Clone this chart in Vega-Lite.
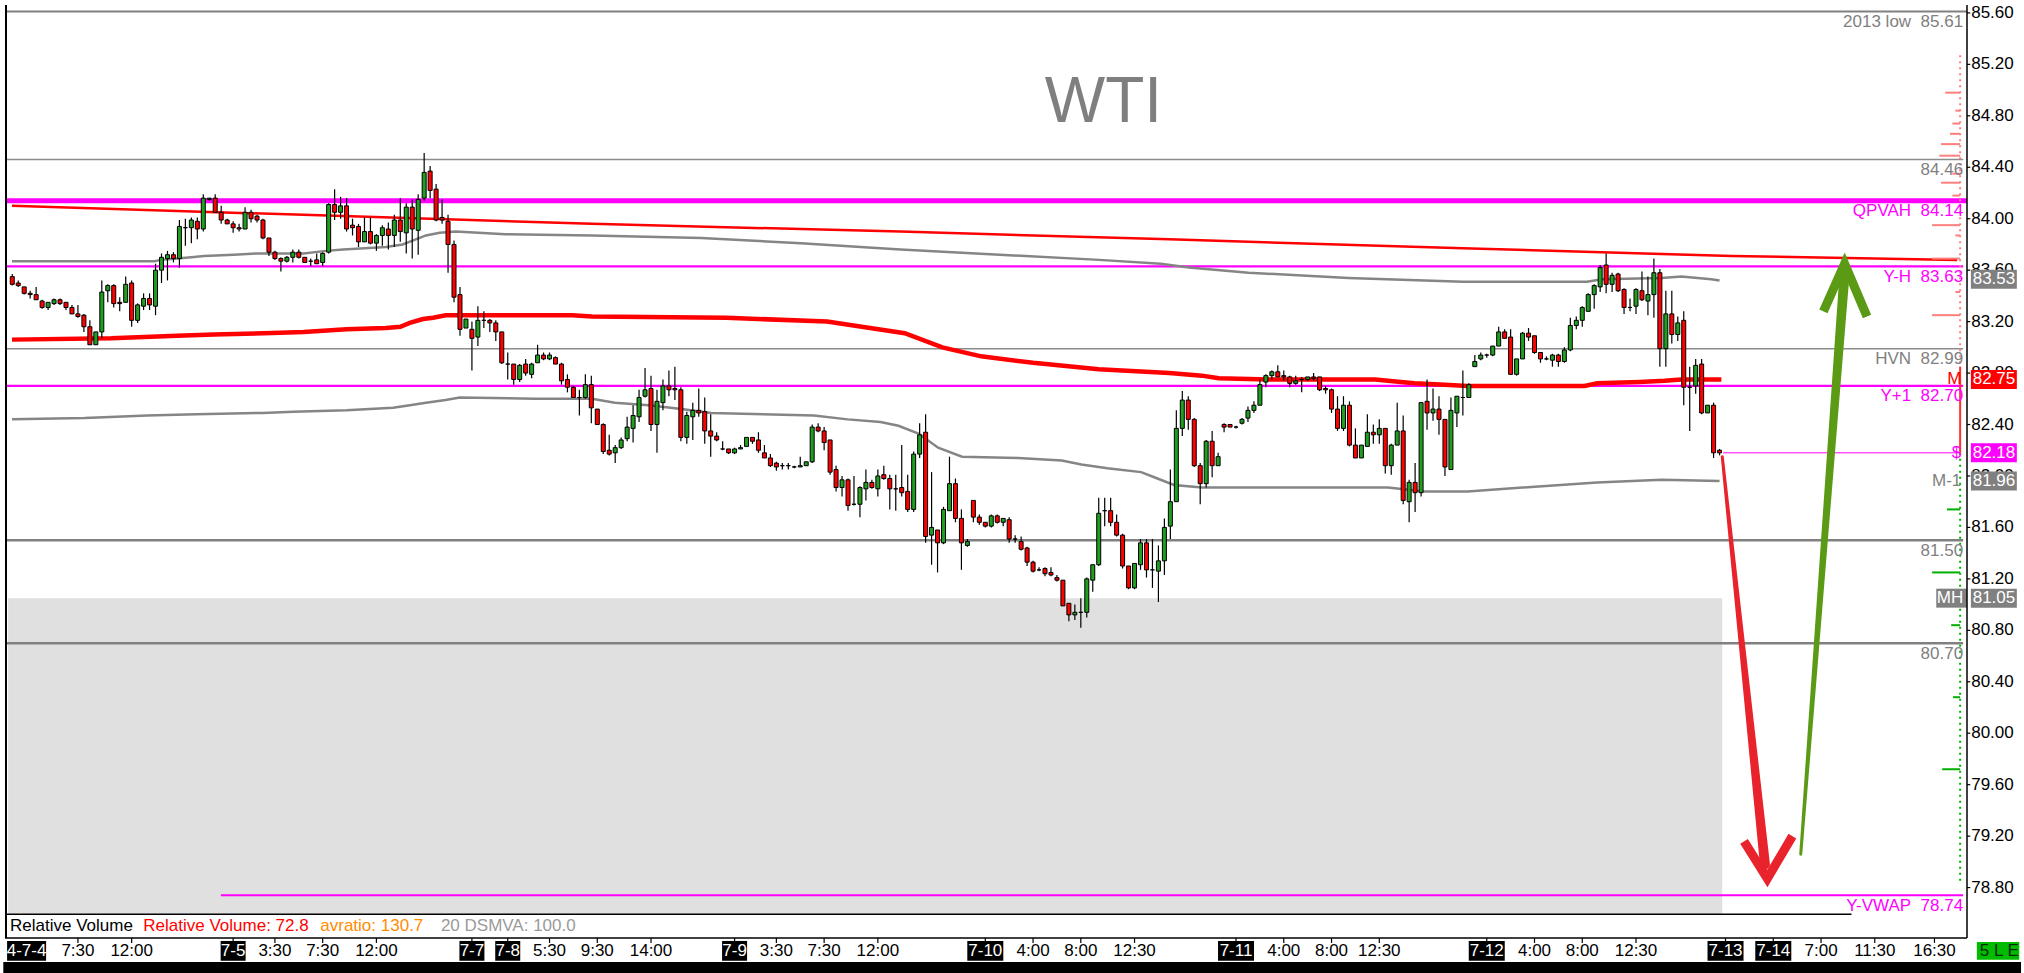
{
"$schema":"https://vega.github.io/schema/vega-lite/v6.json",
"width":1972,"height":943,
"autosize":{"type":"none"},
"padding":{"left":0,"top":0,"right":52,"bottom":30},
"background":"white",
"config":{"view":{"stroke":null},"font":"Liberation Sans","text":{"font":"Liberation Sans"}},
"datasets":{
"candles":[
{"t":1,"o":83.55,"h":83.57,"l":83.48,"c":83.49},{"t":2,"o":83.50,"h":83.52,"l":83.47,"c":83.48},{"t":3,"o":83.47,"h":83.47,"l":83.41,"c":83.42},{"t":4,"o":83.42,"h":83.44,"l":83.38,"c":83.41},{"t":5,"o":83.41,"h":83.47,"l":83.37,"c":83.37},{"t":6,"o":83.36,"h":83.37,"l":83.30,"c":83.31},{"t":7,"o":83.31,"h":83.35,"l":83.29,"c":83.35},{"t":8,"o":83.34,"h":83.38,"l":83.33,"c":83.37},{"t":9,"o":83.37,"h":83.38,"l":83.33,"c":83.34},{"t":10,"o":83.35,"h":83.35,"l":83.29,"c":83.31},
{"t":11,"o":83.31,"h":83.33,"l":83.26,"c":83.26},{"t":12,"o":83.26,"h":83.33,"l":83.23,"c":83.24},{"t":13,"o":83.25,"h":83.26,"l":83.12,"c":83.16},{"t":14,"o":83.16,"h":83.21,"l":83.02,"c":83.02},{"t":15,"o":83.02,"h":83.12,"l":83.02,"c":83.12},{"t":16,"o":83.12,"h":83.52,"l":83.07,"c":83.43},{"t":17,"o":83.44,"h":83.49,"l":83.35,"c":83.48},{"t":18,"o":83.48,"h":83.49,"l":83.31,"c":83.34},{"t":19,"o":83.35,"h":83.39,"l":83.28,"c":83.34},{"t":20,"o":83.35,"h":83.55,"l":83.35,"c":83.49},
{"t":21,"o":83.50,"h":83.52,"l":83.16,"c":83.21},{"t":22,"o":83.21,"h":83.34,"l":83.19,"c":83.33},{"t":23,"o":83.32,"h":83.42,"l":83.29,"c":83.38},{"t":24,"o":83.38,"h":83.42,"l":83.29,"c":83.33},{"t":25,"o":83.32,"h":83.65,"l":83.25,"c":83.60},{"t":26,"o":83.60,"h":83.73,"l":83.50,"c":83.70},{"t":27,"o":83.69,"h":83.75,"l":83.52,"c":83.72},{"t":28,"o":83.72,"h":83.74,"l":83.66,"c":83.69},{"t":29,"o":83.69,"h":83.99,"l":83.62,"c":83.94},{"t":30,"o":83.93,"h":84.00,"l":83.79,"c":83.93},
{"t":31,"o":83.93,"h":84.01,"l":83.81,"c":83.99},{"t":32,"o":83.98,"h":84.01,"l":83.84,"c":83.92},{"t":33,"o":83.92,"h":84.19,"l":83.90,"c":84.16},{"t":34,"o":84.15,"h":84.16,"l":84.14,"c":84.16},{"t":35,"o":84.16,"h":84.19,"l":84.05,"c":84.05},{"t":36,"o":84.05,"h":84.10,"l":83.96,"c":83.99},{"t":37,"o":83.99,"h":84.00,"l":83.96,"c":83.96},{"t":38,"o":83.96,"h":83.98,"l":83.89,"c":83.93},{"t":39,"o":83.93,"h":83.96,"l":83.90,"c":83.92},{"t":40,"o":83.92,"h":84.09,"l":83.92,"c":84.05},
{"t":41,"o":84.05,"h":84.07,"l":83.97,"c":84.00},{"t":42,"o":84.02,"h":84.03,"l":83.97,"c":83.99},{"t":43,"o":83.99,"h":84.00,"l":83.84,"c":83.85},{"t":44,"o":83.85,"h":83.85,"l":83.71,"c":83.74},{"t":45,"o":83.74,"h":83.75,"l":83.68,"c":83.69},{"t":46,"o":83.69,"h":83.70,"l":83.59,"c":83.67},{"t":47,"o":83.67,"h":83.71,"l":83.66,"c":83.70},{"t":48,"o":83.70,"h":83.76,"l":83.66,"c":83.74},{"t":49,"o":83.74,"h":83.76,"l":83.69,"c":83.70},{"t":50,"o":83.70,"h":83.70,"l":83.66,"c":83.66},
{"t":51,"o":83.67,"h":83.69,"l":83.63,"c":83.67},{"t":52,"o":83.68,"h":83.73,"l":83.65,"c":83.65},{"t":53,"o":83.66,"h":83.74,"l":83.63,"c":83.73},{"t":54,"o":83.74,"h":84.12,"l":83.73,"c":84.11},{"t":55,"o":84.11,"h":84.23,"l":83.99,"c":84.05},{"t":56,"o":84.05,"h":84.17,"l":84.00,"c":84.10},{"t":57,"o":84.10,"h":84.16,"l":83.90,"c":83.92},{"t":58,"o":83.95,"h":84.00,"l":83.87,"c":83.93},{"t":59,"o":83.94,"h":83.96,"l":83.78,"c":83.82},{"t":60,"o":83.82,"h":84.01,"l":83.82,"c":83.90},
{"t":61,"o":83.90,"h":84.01,"l":83.80,"c":83.81},{"t":62,"o":83.81,"h":83.88,"l":83.75,"c":83.87},{"t":63,"o":83.87,"h":83.95,"l":83.79,"c":83.93},{"t":64,"o":83.92,"h":83.97,"l":83.76,"c":83.87},{"t":65,"o":83.87,"h":84.03,"l":83.78,"c":83.99},{"t":66,"o":83.99,"h":84.16,"l":83.82,"c":83.90},{"t":67,"o":83.89,"h":84.12,"l":83.73,"c":84.09},{"t":68,"o":84.09,"h":84.15,"l":83.69,"c":83.92},{"t":69,"o":83.91,"h":84.19,"l":83.72,"c":84.15},{"t":70,"o":84.16,"h":84.51,"l":84.14,"c":84.36},
{"t":71,"o":84.37,"h":84.41,"l":84.16,"c":84.22},{"t":72,"o":84.23,"h":84.27,"l":83.98,"c":83.99},{"t":73,"o":84.01,"h":84.15,"l":83.96,"c":83.99},{"t":74,"o":83.98,"h":84.03,"l":83.58,"c":83.80},{"t":75,"o":83.80,"h":83.83,"l":83.35,"c":83.39},{"t":76,"o":83.41,"h":83.47,"l":83.09,"c":83.14},{"t":77,"o":83.15,"h":83.22,"l":83.15,"c":83.22},{"t":78,"o":83.14,"h":83.20,"l":82.82,"c":83.07},{"t":79,"o":83.08,"h":83.32,"l":83.01,"c":83.21},{"t":80,"o":83.21,"h":83.28,"l":83.15,"c":83.21},
{"t":81,"o":83.21,"h":83.22,"l":83.12,"c":83.19},{"t":82,"o":83.19,"h":83.21,"l":83.05,"c":83.12},{"t":83,"o":83.12,"h":83.12,"l":82.87,"c":82.88},{"t":84,"o":82.87,"h":82.96,"l":82.75,"c":82.87},{"t":85,"o":82.87,"h":82.87,"l":82.71,"c":82.75},{"t":86,"o":82.75,"h":82.87,"l":82.73,"c":82.86},{"t":87,"o":82.87,"h":82.91,"l":82.78,"c":82.80},{"t":88,"o":82.79,"h":82.88,"l":82.76,"c":82.87},{"t":89,"o":82.88,"h":83.02,"l":82.88,"c":82.94},{"t":90,"o":82.94,"h":82.96,"l":82.90,"c":82.91},
{"t":91,"o":82.91,"h":82.96,"l":82.90,"c":82.94},{"t":92,"o":82.92,"h":82.93,"l":82.87,"c":82.87},{"t":93,"o":82.87,"h":82.88,"l":82.71,"c":82.74},{"t":94,"o":82.75,"h":82.79,"l":82.65,"c":82.69},{"t":95,"o":82.69,"h":82.70,"l":82.61,"c":82.61},{"t":96,"o":82.61,"h":82.67,"l":82.47,"c":82.61},{"t":97,"o":82.61,"h":82.79,"l":82.60,"c":82.71},{"t":98,"o":82.71,"h":82.78,"l":82.41,"c":82.53},{"t":99,"o":82.52,"h":82.52,"l":82.40,"c":82.40},{"t":100,"o":82.40,"h":82.41,"l":82.17,"c":82.19},
{"t":101,"o":82.20,"h":82.32,"l":82.16,"c":82.17},{"t":102,"o":82.18,"h":82.24,"l":82.10,"c":82.22},{"t":103,"o":82.22,"h":82.30,"l":82.21,"c":82.28},{"t":104,"o":82.29,"h":82.46,"l":82.27,"c":82.38},{"t":105,"o":82.37,"h":82.55,"l":82.26,"c":82.47},{"t":106,"o":82.46,"h":82.67,"l":82.42,"c":82.61},{"t":107,"o":82.62,"h":82.84,"l":82.61,"c":82.67},{"t":108,"o":82.68,"h":82.78,"l":82.35,"c":82.40},{"t":109,"o":82.40,"h":82.67,"l":82.18,"c":82.58},{"t":110,"o":82.57,"h":82.75,"l":82.51,"c":82.70},
{"t":111,"o":82.70,"h":82.82,"l":82.62,"c":82.67},{"t":112,"o":82.68,"h":82.85,"l":82.59,"c":82.67},{"t":113,"o":82.67,"h":82.69,"l":82.27,"c":82.30},{"t":114,"o":82.30,"h":82.50,"l":82.25,"c":82.47},{"t":115,"o":82.46,"h":82.57,"l":82.28,"c":82.51},{"t":116,"o":82.51,"h":82.68,"l":82.46,"c":82.49},{"t":117,"o":82.50,"h":82.61,"l":82.25,"c":82.35},{"t":118,"o":82.35,"h":82.48,"l":82.15,"c":82.31},{"t":119,"o":82.31,"h":82.34,"l":82.27,"c":82.28},{"t":120,"o":82.21,"h":82.27,"l":82.20,"c":82.21},
{"t":121,"o":82.21,"h":82.21,"l":82.17,"c":82.18},{"t":122,"o":82.18,"h":82.22,"l":82.17,"c":82.21},{"t":123,"o":82.21,"h":82.24,"l":82.21,"c":82.22},{"t":124,"o":82.23,"h":82.30,"l":82.23,"c":82.30},{"t":125,"o":82.30,"h":82.30,"l":82.25,"c":82.27},{"t":126,"o":82.28,"h":82.34,"l":82.18,"c":82.20},{"t":127,"o":82.18,"h":82.24,"l":82.14,"c":82.14},{"t":128,"o":82.14,"h":82.17,"l":82.07,"c":82.08},{"t":129,"o":82.10,"h":82.11,"l":82.04,"c":82.07},{"t":130,"o":82.08,"h":82.10,"l":82.05,"c":82.08},
{"t":131,"o":82.08,"h":82.10,"l":82.05,"c":82.08},{"t":132,"o":82.07,"h":82.08,"l":82.06,"c":82.07},{"t":133,"o":82.07,"h":82.15,"l":82.07,"c":82.08},{"t":134,"o":82.08,"h":82.11,"l":82.08,"c":82.11},{"t":135,"o":82.11,"h":82.40,"l":82.10,"c":82.38},{"t":136,"o":82.38,"h":82.41,"l":82.34,"c":82.35},{"t":137,"o":82.35,"h":82.38,"l":82.20,"c":82.26},{"t":138,"o":82.28,"h":82.28,"l":82.01,"c":82.03},{"t":139,"o":82.05,"h":82.08,"l":81.88,"c":81.91},{"t":140,"o":81.91,"h":82.00,"l":81.84,"c":81.97},
{"t":141,"o":81.97,"h":81.98,"l":81.73,"c":81.77},{"t":142,"o":81.78,"h":82.00,"l":81.77,"c":81.78},{"t":143,"o":81.78,"h":81.92,"l":81.68,"c":81.91},{"t":144,"o":81.90,"h":82.05,"l":81.81,"c":81.95},{"t":145,"o":81.95,"h":81.97,"l":81.90,"c":81.91},{"t":146,"o":81.90,"h":82.05,"l":81.84,"c":82.00},{"t":147,"o":82.01,"h":82.08,"l":81.97,"c":81.98},{"t":148,"o":81.98,"h":82.01,"l":81.74,"c":81.90},{"t":149,"o":81.90,"h":82.01,"l":81.73,"c":81.90},{"t":150,"o":81.91,"h":82.24,"l":81.84,"c":81.87},
{"t":151,"o":81.88,"h":82.01,"l":81.72,"c":81.74},{"t":152,"o":81.74,"h":82.19,"l":81.72,"c":82.17},{"t":153,"o":82.17,"h":82.41,"l":82.14,"c":82.32},{"t":154,"o":82.34,"h":82.48,"l":81.48,"c":81.53},{"t":155,"o":81.54,"h":82.03,"l":81.31,"c":81.60},{"t":156,"o":81.58,"h":81.58,"l":81.25,"c":81.48},{"t":157,"o":81.48,"h":81.76,"l":81.47,"c":81.74},{"t":158,"o":81.73,"h":82.15,"l":81.73,"c":81.94},{"t":159,"o":81.94,"h":81.98,"l":81.64,"c":81.67},{"t":160,"o":81.67,"h":81.74,"l":81.27,"c":81.48},
{"t":161,"o":81.46,"h":81.51,"l":81.45,"c":81.49},{"t":162,"o":81.81,"h":81.81,"l":81.64,"c":81.68},{"t":163,"o":81.68,"h":81.70,"l":81.62,"c":81.64},{"t":164,"o":81.64,"h":81.64,"l":81.60,"c":81.61},{"t":165,"o":81.61,"h":81.70,"l":81.60,"c":81.69},{"t":166,"o":81.69,"h":81.70,"l":81.63,"c":81.64},{"t":167,"o":81.64,"h":81.67,"l":81.61,"c":81.67},{"t":168,"o":81.66,"h":81.68,"l":81.48,"c":81.51},{"t":169,"o":81.51,"h":81.54,"l":81.48,"c":81.51},{"t":170,"o":81.49,"h":81.53,"l":81.42,"c":81.43},
{"t":171,"o":81.44,"h":81.45,"l":81.30,"c":81.33},{"t":172,"o":81.33,"h":81.34,"l":81.25,"c":81.26},{"t":173,"o":81.27,"h":81.29,"l":81.26,"c":81.27},{"t":174,"o":81.28,"h":81.29,"l":81.22,"c":81.24},{"t":175,"o":81.25,"h":81.29,"l":81.22,"c":81.23},{"t":176,"o":81.21,"h":81.23,"l":81.18,"c":81.19},{"t":177,"o":81.19,"h":81.19,"l":80.99,"c":80.99},{"t":178,"o":81.01,"h":81.01,"l":80.87,"c":80.92},{"t":179,"o":80.92,"h":81.00,"l":80.88,"c":80.94},{"t":180,"o":80.94,"h":81.05,"l":80.82,"c":80.94},
{"t":181,"o":80.94,"h":81.21,"l":80.90,"c":81.20},{"t":182,"o":81.19,"h":81.31,"l":81.10,"c":81.31},{"t":183,"o":81.31,"h":81.83,"l":81.30,"c":81.71},{"t":184,"o":81.73,"h":81.83,"l":81.61,"c":81.73},{"t":185,"o":81.73,"h":81.83,"l":81.61,"c":81.64},{"t":186,"o":81.64,"h":81.70,"l":81.53,"c":81.54},{"t":187,"o":81.54,"h":81.55,"l":81.28,"c":81.30},{"t":188,"o":81.30,"h":81.30,"l":81.12,"c":81.13},{"t":189,"o":81.13,"h":81.32,"l":81.12,"c":81.32},{"t":190,"o":81.31,"h":81.51,"l":81.27,"c":81.48},
{"t":191,"o":81.48,"h":81.51,"l":81.21,"c":81.27},{"t":192,"o":81.27,"h":81.51,"l":81.13,"c":81.27},{"t":193,"o":81.26,"h":81.46,"l":81.02,"c":81.34},{"t":194,"o":81.34,"h":81.67,"l":81.23,"c":81.60},{"t":195,"o":81.61,"h":82.05,"l":81.51,"c":81.80},{"t":196,"o":81.80,"h":82.51,"l":81.80,"c":82.37},{"t":197,"o":82.37,"h":82.66,"l":82.31,"c":82.59},{"t":198,"o":82.59,"h":82.62,"l":82.36,"c":82.44},{"t":199,"o":82.44,"h":82.45,"l":82.07,"c":82.08},{"t":200,"o":82.08,"h":82.10,"l":81.78,"c":81.94},
{"t":201,"o":81.94,"h":82.28,"l":81.91,"c":82.27},{"t":202,"o":82.27,"h":82.35,"l":81.99,"c":82.08},{"t":203,"o":82.08,"h":82.18,"l":82.08,"c":82.15},{"t":204,"o":82.40,"h":82.41,"l":82.34,"c":82.38},{"t":205,"o":82.40,"h":82.40,"l":82.38,"c":82.38},{"t":206,"o":82.38,"h":82.39,"l":82.37,"c":82.38},{"t":207,"o":82.41,"h":82.45,"l":82.40,"c":82.44},{"t":208,"o":82.45,"h":82.54,"l":82.42,"c":82.51},{"t":209,"o":82.51,"h":82.58,"l":82.49,"c":82.55},{"t":210,"o":82.55,"h":82.75,"l":82.55,"c":82.71},
{"t":211,"o":82.73,"h":82.79,"l":82.69,"c":82.78},{"t":212,"o":82.78,"h":82.82,"l":82.75,"c":82.81},{"t":213,"o":82.81,"h":82.86,"l":82.77,"c":82.77},{"t":214,"o":82.78,"h":82.82,"l":82.74,"c":82.77},{"t":215,"o":82.77,"h":82.78,"l":82.69,"c":82.72},{"t":216,"o":82.72,"h":82.78,"l":82.71,"c":82.74},{"t":217,"o":82.75,"h":82.77,"l":82.65,"c":82.75},{"t":218,"o":82.75,"h":82.77,"l":82.74,"c":82.77},{"t":219,"o":82.77,"h":82.80,"l":82.74,"c":82.76},{"t":220,"o":82.77,"h":82.77,"l":82.66,"c":82.67},
{"t":221,"o":82.68,"h":82.70,"l":82.64,"c":82.67},{"t":222,"o":82.67,"h":82.68,"l":82.49,"c":82.52},{"t":223,"o":82.52,"h":82.62,"l":82.35,"c":82.37},{"t":224,"o":82.37,"h":82.62,"l":82.35,"c":82.55},{"t":225,"o":82.55,"h":82.58,"l":82.23,"c":82.24},{"t":226,"o":82.24,"h":82.37,"l":82.14,"c":82.14},{"t":227,"o":82.14,"h":82.24,"l":82.14,"c":82.24},{"t":228,"o":82.23,"h":82.48,"l":82.23,"c":82.34},{"t":229,"o":82.34,"h":82.40,"l":82.25,"c":82.32},{"t":230,"o":82.32,"h":82.44,"l":82.25,"c":82.37},
{"t":231,"o":82.37,"h":82.37,"l":82.02,"c":82.08},{"t":232,"o":82.08,"h":82.25,"l":82.01,"c":82.24},{"t":233,"o":82.24,"h":82.57,"l":82.24,"c":82.35},{"t":234,"o":82.35,"h":82.47,"l":81.78,"c":81.81},{"t":235,"o":81.80,"h":81.97,"l":81.64,"c":81.95},{"t":236,"o":81.95,"h":82.10,"l":81.72,"c":81.87},{"t":237,"o":81.87,"h":82.57,"l":81.84,"c":82.57},{"t":238,"o":82.58,"h":82.75,"l":82.36,"c":82.49},{"t":239,"o":82.49,"h":82.68,"l":82.43,"c":82.52},{"t":240,"o":82.52,"h":82.62,"l":82.32,"c":82.44},
{"t":241,"o":82.44,"h":82.44,"l":82.00,"c":82.07},{"t":242,"o":82.05,"h":82.61,"l":82.05,"c":82.51},{"t":243,"o":82.49,"h":82.62,"l":82.38,"c":82.62},{"t":244,"o":82.61,"h":82.82,"l":82.47,"c":82.61},{"t":245,"o":82.61,"h":82.72,"l":82.61,"c":82.71},{"t":246,"o":82.85,"h":82.94,"l":82.85,"c":82.89},{"t":247,"o":82.91,"h":82.96,"l":82.90,"c":82.94},{"t":248,"o":82.94,"h":82.95,"l":82.92,"c":82.94},{"t":249,"o":82.94,"h":83.01,"l":82.93,"c":83.01},{"t":250,"o":83.01,"h":83.16,"l":83.01,"c":83.12},
{"t":251,"o":83.12,"h":83.14,"l":83.07,"c":83.07},{"t":252,"o":83.08,"h":83.14,"l":82.79,"c":82.79},{"t":253,"o":82.79,"h":82.91,"l":82.78,"c":82.91},{"t":254,"o":82.91,"h":83.12,"l":82.91,"c":83.11},{"t":255,"o":83.11,"h":83.15,"l":83.05,"c":83.08},{"t":256,"o":83.09,"h":83.09,"l":82.95,"c":82.96},{"t":257,"o":82.96,"h":82.96,"l":82.88,"c":82.91},{"t":258,"o":82.91,"h":82.93,"l":82.90,"c":82.91},{"t":259,"o":82.90,"h":82.95,"l":82.85,"c":82.94},{"t":260,"o":82.94,"h":82.95,"l":82.85,"c":82.89},
{"t":261,"o":82.89,"h":83.00,"l":82.88,"c":82.98},{"t":262,"o":82.98,"h":83.23,"l":82.97,"c":83.17},{"t":263,"o":83.17,"h":83.24,"l":83.14,"c":83.21},{"t":264,"o":83.21,"h":83.32,"l":83.16,"c":83.31},{"t":265,"o":83.28,"h":83.42,"l":83.28,"c":83.41},{"t":266,"o":83.41,"h":83.49,"l":83.30,"c":83.48},{"t":267,"o":83.47,"h":83.64,"l":83.43,"c":83.62},{"t":268,"o":83.64,"h":83.73,"l":83.42,"c":83.49},{"t":269,"o":83.49,"h":83.58,"l":83.43,"c":83.56},{"t":270,"o":83.57,"h":83.58,"l":83.43,"c":83.44},
{"t":271,"o":83.45,"h":83.46,"l":83.26,"c":83.31},{"t":272,"o":83.31,"h":83.38,"l":83.28,"c":83.31},{"t":273,"o":83.32,"h":83.46,"l":83.26,"c":83.45},{"t":274,"o":83.44,"h":83.59,"l":83.36,"c":83.37},{"t":275,"o":83.36,"h":83.55,"l":83.25,"c":83.41},{"t":276,"o":83.41,"h":83.69,"l":83.23,"c":83.58},{"t":277,"o":83.58,"h":83.61,"l":82.85,"c":82.99},{"t":278,"o":82.99,"h":83.44,"l":82.85,"c":83.26},{"t":279,"o":83.26,"h":83.44,"l":83.03,"c":83.10},{"t":280,"o":83.10,"h":83.24,"l":83.05,"c":83.19},
{"t":281,"o":83.21,"h":83.28,"l":82.55,"c":82.69},{"t":282,"o":82.69,"h":82.85,"l":82.35,"c":82.69},{"t":283,"o":82.70,"h":82.91,"l":82.64,"c":82.86},{"t":284,"o":82.87,"h":82.91,"l":82.48,"c":82.49},{"t":285,"o":82.49,"h":82.55,"l":82.49,"c":82.55},{"t":286,"o":82.55,"h":82.57,"l":82.14,"c":82.18},{"t":287,"o":82.20,"h":82.21,"l":82.16,"c":82.18}
],
"curves":[
{"s":"r1","t":0.95,"p":84.10},{"s":"r1","t":49.8,"p":84.03},{"s":"r1","t":98.1,"p":83.96},{"s":"r1","t":149.8,"p":83.90},{"s":"r1","t":194.8,"p":83.84},{"s":"r1","t":244,"p":83.77},{"s":"r1","t":289,"p":83.71},{"s":"r1","t":326.8,"p":83.68},
{"s":"r2","t":0.95,"p":83.06},{"s":"r2","t":17.6,"p":83.07},{"s":"r2","t":28.6,"p":83.09},{"s":"r2","t":34.8,"p":83.10},{"s":"r2","t":43.1,"p":83.11},{"s":"r2","t":49.8,"p":83.12},{"s":"r2","t":57,"p":83.14},{"s":"r2","t":63.6,"p":83.15},{"s":"r2","t":66,"p":83.16},{"s":"r2","t":67.6,"p":83.19},{"s":"r2","t":69.8,"p":83.22},{"s":"r2","t":71.5,"p":83.23},{"s":"r2","t":73.6,"p":83.25},{"s":"r2","t":94.8,"p":83.25},{"s":"r2","t":98.1,"p":83.24},{"s":"r2","t":120.6,"p":83.23},{"s":"r2","t":137.5,"p":83.20},{"s":"r2","t":150.5,"p":83.11},{"s":"r2","t":156.8,"p":83.00},{"s":"r2","t":163.3,"p":82.93},{"s":"r2","t":172,"p":82.88},{"s":"r2","t":183,"p":82.83},{"s":"r2","t":194.8,"p":82.80},{"s":"r2","t":200.3,"p":82.78},{"s":"r2","t":203.1,"p":82.76},{"s":"r2","t":211.5,"p":82.75},{"s":"r2","t":229.3,"p":82.75},{"s":"r2","t":233.6,"p":82.73},{"s":"r2","t":235.9,"p":82.72},{"s":"r2","t":241,"p":82.71},{"s":"r2","t":244.8,"p":82.70},{"s":"r2","t":264.4,"p":82.70},{"s":"r2","t":266.5,"p":82.72},{"s":"r2","t":273.6,"p":82.73},{"s":"r2","t":277.8,"p":82.74},{"s":"r2","t":280.6,"p":82.75},{"s":"r2","t":287.3,"p":82.75},
{"s":"g1","t":0.95,"p":83.67},{"s":"g1","t":24.8,"p":83.67},{"s":"g1","t":26,"p":83.68},{"s":"g1","t":28.6,"p":83.69},{"s":"g1","t":31,"p":83.70},{"s":"g1","t":33.1,"p":83.71},{"s":"g1","t":38.1,"p":83.72},{"s":"g1","t":42,"p":83.73},{"s":"g1","t":49.8,"p":83.73},{"s":"g1","t":53.6,"p":83.75},{"s":"g1","t":56.4,"p":83.76},{"s":"g1","t":63.6,"p":83.78},{"s":"g1","t":66.4,"p":83.80},{"s":"g1","t":68.6,"p":83.84},{"s":"g1","t":70.3,"p":83.87},{"s":"g1","t":72.6,"p":83.89},{"s":"g1","t":75.3,"p":83.90},{"s":"g1","t":83.6,"p":83.88},{"s":"g1","t":98.1,"p":83.87},{"s":"g1","t":116.4,"p":83.85},{"s":"g1","t":133.1,"p":83.81},{"s":"g1","t":149.8,"p":83.76},{"s":"g1","t":166.4,"p":83.72},{"s":"g1","t":183.1,"p":83.68},{"s":"g1","t":193.4,"p":83.65},{"s":"g1","t":198.1,"p":83.62},{"s":"g1","t":208.1,"p":83.58},{"s":"g1","t":224.8,"p":83.54},{"s":"g1","t":244,"p":83.51},{"s":"g1","t":264.8,"p":83.51},{"s":"g1","t":267.3,"p":83.53},{"s":"g1","t":277.3,"p":83.54},{"s":"g1","t":280.6,"p":83.55},{"s":"g1","t":285.6,"p":83.53},{"s":"g1","t":287,"p":83.52},
{"s":"g2","t":0.95,"p":82.44},{"s":"g2","t":13.1,"p":82.45},{"s":"g2","t":18.45,"p":82.46},{"s":"g2","t":23.6,"p":82.47},{"s":"g2","t":31.8,"p":82.48},{"s":"g2","t":42.95,"p":82.49},{"s":"g2","t":48.1,"p":82.50},{"s":"g2","t":57,"p":82.51},{"s":"g2","t":64.8,"p":82.53},{"s":"g2","t":67.6,"p":82.55},{"s":"g2","t":70.3,"p":82.57},{"s":"g2","t":73.6,"p":82.59},{"s":"g2","t":75.95,"p":82.61},{"s":"g2","t":88.6,"p":82.60},{"s":"g2","t":98.1,"p":82.60},{"s":"g2","t":101.95,"p":82.57},{"s":"g2","t":107.6,"p":82.55},{"s":"g2","t":113.1,"p":82.52},{"s":"g2","t":118.1,"p":82.49},{"s":"g2","t":135.3,"p":82.47},{"s":"g2","t":140.95,"p":82.44},{"s":"g2","t":146.45,"p":82.42},{"s":"g2","t":149.45,"p":82.39},{"s":"g2","t":152.8,"p":82.33},{"s":"g2","t":156.1,"p":82.22},{"s":"g2","t":160.1,"p":82.15},{"s":"g2","t":169.5,"p":82.14},{"s":"g2","t":176.8,"p":82.12},{"s":"g2","t":180.1,"p":82.09},{"s":"g2","t":184.45,"p":82.06},{"s":"g2","t":190.1,"p":82.03},{"s":"g2","t":192.3,"p":81.99},{"s":"g2","t":195.6,"p":81.93},{"s":"g2","t":200.3,"p":81.91},{"s":"g2","t":231.45,"p":81.91},{"s":"g2","t":237.6,"p":81.88},{"s":"g2","t":244.8,"p":81.88},{"s":"g2","t":266.45,"p":81.95},{"s":"g2","t":277.3,"p":81.97},{"s":"g2","t":287,"p":81.96}
],
"arrows":[
{"a":"rs","t":287.45,"p":82.15,"i":0},{"a":"rs","t":294.6,"p":78.98,"i":1},
{"a":"rh","t":291.1,"p":79.16,"i":0},{"a":"rh","t":295.0,"p":78.87,"i":1},{"a":"rh","t":299.2,"p":79.2,"i":2},
{"a":"gs","t":300.6,"p":79.06,"i":0},{"a":"gs","t":307.9,"p":83.55,"i":1},
{"a":"gh","t":304.4,"p":83.28,"i":0},{"a":"gh","t":307.95,"p":83.65,"i":1},{"a":"gh","t":311.7,"p":83.24,"i":2}
],
"yticks":[{"v":78.8},{"v":79.2},{"v":79.6},{"v":80.0},{"v":80.4},{"v":80.8},{"v":81.2},{"v":81.6},{"v":82.0},{"v":82.4},{"v":82.8},{"v":83.2},{"v":83.6},{"v":84.0},{"v":84.4},{"v":84.8},{"v":85.2},{"v":85.6}],
"dates":[{"t":3.4,"label":"4-7-4"},{"t":38,"label":"7-5"},{"t":78,"label":"7-7"},{"t":84,"label":"7-8"},{"t":122,"label":"7-9"},{"t":164,"label":"7-10"},{"t":206,"label":"7-11"},{"t":248,"label":"7-12"},{"t":288,"label":"7-13"},{"t":296,"label":"7-14"}],
"times":[{"t":12,"label":"7:30"},{"t":21,"label":"12:00"},{"t":45,"label":"3:30"},{"t":53,"label":"7:30"},{"t":62,"label":"12:00"},{"t":91,"label":"5:30"},{"t":99,"label":"9:30"},{"t":108,"label":"14:00"},{"t":129,"label":"3:30"},{"t":137,"label":"7:30"},{"t":146,"label":"12:00"},{"t":172,"label":"4:00"},{"t":180,"label":"8:00"},{"t":189,"label":"12:30"},{"t":214,"label":"4:00"},{"t":222,"label":"8:00"},{"t":230,"label":"12:30"},{"t":256,"label":"4:00"},{"t":264,"label":"8:00"},{"t":273,"label":"12:30"},{"t":304,"label":"7:00"},{"t":313,"label":"11:30"},{"t":323,"label":"16:30"}]
},
"layer":[
{"data":{"values":[{"t":0.3,"t2":287.45,"p":81.05,"p2":78.592}]},
 "mark":{"type":"rect","color":"#e0e0e0"},
 "encoding":{
  "x":{"field":"t","type":"quantitative","scale":{"domain":[-0.2167,328.45],"nice":false,"zero":false},"axis":null},
  "x2":{"field":"t2"},
  "y":{"field":"p","type":"quantitative","scale":{"domain":[78.408,85.6615],"nice":false,"zero":false},"axis":null},
  "y2":{"field":"p2"}}},
{"data":{"values":[{"p":81.50},{"p":80.70}]},
 "mark":{"type":"rule","color":"#808080","strokeWidth":2.5},
 "encoding":{"x":{"datum":-0.2,"type":"quantitative","axis":null},"x2":{"datum":327.8},"y":{"field":"p","type":"quantitative","axis":null}}},
{"data":{"values":[{"p":85.61}]},
 "mark":{"type":"rule","color":"#808080","strokeWidth":2},
 "encoding":{"x":{"datum":-0.2,"type":"quantitative","axis":null},"x2":{"datum":328.45},"y":{"field":"p","type":"quantitative","axis":null}}},
{"data":{"values":[{"p":84.46},{"p":82.99}]},
 "mark":{"type":"rule","color":"#8c8c8c","strokeWidth":1.5},
 "encoding":{"x":{"datum":-0.2,"type":"quantitative","axis":null},"x2":{"datum":327.8},"y":{"field":"p","type":"quantitative","axis":null}}},
{"data":{"values":[{"p":84.14}]},
 "mark":{"type":"rule","color":"#ff00ff","strokeWidth":5},
 "encoding":{"x":{"datum":-0.2,"type":"quantitative","axis":null},"x2":{"datum":328.45},"y":{"field":"p","type":"quantitative","axis":null}}},
{"data":{"values":[{"p":83.63},{"p":82.70}]},
 "mark":{"type":"rule","color":"#ff00ff","strokeWidth":2.2},
 "encoding":{"x":{"datum":-0.2,"type":"quantitative","axis":null},"x2":{"datum":327.8},"y":{"field":"p","type":"quantitative","axis":null}}},
{"data":{"values":[{"p":78.74,"t":35.95}]},
 "mark":{"type":"rule","color":"#ff00ff","strokeWidth":2},
 "encoding":{"x":{"field":"t","type":"quantitative","axis":null},"x2":{"datum":327.8},"y":{"field":"p","type":"quantitative","axis":null}}},
{"data":{"values":[{"p":82.18,"t":287.6}]},
 "mark":{"type":"rule","color":"#ff00ff","strokeWidth":1},
 "encoding":{"x":{"field":"t","type":"quantitative","axis":null},"x2":{"datum":327},"y":{"field":"p","type":"quantitative","axis":null}}},
{"data":{"values":[{"p":78.592}]},
 "mark":{"type":"rule","color":"black","strokeWidth":1.5},
 "encoding":{"x":{"datum":-0.2167,"type":"quantitative","axis":null},"x2":{"datum":309.1},"y":{"field":"p","type":"quantitative","axis":null}}},
{"data":{"name":"curves"},"transform":[{"filter":"datum.s == 'r1'"}],
 "mark":{"type":"line","color":"#ff0000","strokeWidth":2.5},
 "encoding":{"x":{"field":"t","type":"quantitative","axis":null},"y":{"field":"p","type":"quantitative","axis":null}}},
{"data":{"name":"curves"},"transform":[{"filter":"datum.s == 'g1'"}],
 "mark":{"type":"line","color":"#858585","strokeWidth":2.5},
 "encoding":{"x":{"field":"t","type":"quantitative","axis":null},"y":{"field":"p","type":"quantitative","axis":null}}},
{"data":{"name":"curves"},"transform":[{"filter":"datum.s == 'g2'"}],
 "mark":{"type":"line","color":"#858585","strokeWidth":2.5},
 "encoding":{"x":{"field":"t","type":"quantitative","axis":null},"y":{"field":"p","type":"quantitative","axis":null}}},
{"data":{"name":"curves"},"transform":[{"filter":"datum.s == 'r2'"}],
 "mark":{"type":"line","color":"#ff0000","strokeWidth":4.5},
 "encoding":{"x":{"field":"t","type":"quantitative","axis":null},"y":{"field":"p","type":"quantitative","axis":null}}},
{"data":{"name":"candles"},
 "mark":{"type":"rule","color":"black","strokeWidth":1.2},
 "encoding":{"x":{"field":"t","type":"quantitative","axis":null},"y":{"field":"l","type":"quantitative","axis":null},"y2":{"field":"h"}}},
{"data":{"name":"candles"},
 "mark":{"type":"bar","stroke":"black","strokeWidth":1},
 "encoding":{"x":{"field":"t","type":"quantitative","axis":null},"y":{"field":"o","type":"quantitative","axis":null},"y2":{"field":"c"},
  "size":{"value":4},
  "fill":{"condition":{"test":"datum.c >= datum.o","value":"#1f9e1f"},"value":"#ff0000"}}},
{"data":{"values":[{"p":84.98,"t":324.8},{"p":84.84,"t":326.5},{"p":84.74,"t":326.0},{"p":84.66,"t":325.6},{"p":84.58,"t":324.1},{"p":84.49,"t":323.8},{"p":84.35,"t":326.0},{"p":84.28,"t":324.1},{"p":84.18,"t":326.0},{"p":83.95,"t":322.6},{"p":83.87,"t":326.5},{"p":83.69,"t":322.6},{"p":83.43,"t":326.5},{"p":83.25,"t":322.6}]},
 "mark":{"type":"rule","color":"#ff7f7f","strokeWidth":2},
 "encoding":{"x":{"field":"t","type":"quantitative","axis":null},"x2":{"datum":327.3},"y":{"field":"p","type":"quantitative","axis":null}}},
{"data":{"values":[{"p":81.74,"t":325.1},{"p":81.25,"t":322.6},{"p":81.00,"t":324.8},{"p":80.84,"t":325.8},{"p":80.28,"t":326.1},{"p":79.72,"t":324.3}]},
 "mark":{"type":"rule","color":"#00b000","strokeWidth":2},
 "encoding":{"x":{"field":"t","type":"quantitative","axis":null},"x2":{"datum":327.3},"y":{"field":"p","type":"quantitative","axis":null}}},
{"data":{"values":[{"p":85.27,"p2":82.85}]},
 "mark":{"type":"rule","color":"#ff7f7f","strokeWidth":2,"strokeDash":[2,4]},
 "encoding":{"x":{"datum":327.3,"type":"quantitative","axis":null},"y":{"field":"p","type":"quantitative","axis":null},"y2":{"field":"p2"}}},
{"data":{"values":[{"p":82.85,"p2":82.18}]},
 "mark":{"type":"rule","color":"#ff3030","strokeWidth":2},
 "encoding":{"x":{"datum":327.3,"type":"quantitative","axis":null},"y":{"field":"p","type":"quantitative","axis":null},"y2":{"field":"p2"}}},
{"data":{"values":[{"p":82.18,"p2":78.85}]},
 "mark":{"type":"rule","color":"#00b000","strokeWidth":2,"strokeDash":[2,4]},
 "encoding":{"x":{"datum":327.3,"type":"quantitative","axis":null},"y":{"field":"p","type":"quantitative","axis":null},"y2":{"field":"p2"}}},
{"data":{"values":[{"p":85.61,"label":"2013 low\u00a0\u00a085.61"},{"p":84.46,"label":"84.46"},{"p":82.99,"label":"HVN\u00a0\u00a082.99"},{"p":81.50,"label":"81.50"},{"p":80.70,"label":"80.70"}]},
 "mark":{"type":"text","align":"right","baseline":"middle","dy":10.5,"fontSize":17,"color":"#7f7f7f"},
 "encoding":{"x":{"datum":327.8,"type":"quantitative","axis":null},"y":{"field":"p","type":"quantitative","axis":null},"text":{"field":"label"}}},
{"data":{"values":[{"p":84.14,"label":"QPVAH\u00a0\u00a084.14"},{"p":83.63,"label":"Y-H\u00a0\u00a083.63"},{"p":82.70,"label":"Y+1\u00a0\u00a082.70"},{"p":78.74,"label":"Y-VWAP\u00a0\u00a078.74"}]},
 "mark":{"type":"text","align":"right","baseline":"middle","dy":10.5,"fontSize":17,"color":"#ff00ff"},
 "encoding":{"x":{"datum":327.8,"type":"quantitative","axis":null},"y":{"field":"p","type":"quantitative","axis":null},"text":{"field":"label"}}},
{"data":{"values":[{"p":81.96,"label":"M-1"}]},
 "mark":{"type":"text","align":"right","baseline":"middle","fontSize":17,"color":"#7f7f7f"},
 "encoding":{"x":{"datum":327.5,"type":"quantitative","axis":null},"y":{"field":"p","type":"quantitative","axis":null},"text":{"field":"label"}}},
{"data":{"values":[{"p":82.18,"label":"$"}]},
 "mark":{"type":"text","align":"right","baseline":"middle","fontSize":17,"color":"#ff00ff"},
 "encoding":{"x":{"datum":327.5,"type":"quantitative","axis":null},"y":{"field":"p","type":"quantitative","axis":null},"text":{"field":"label"}}},
{"data":{"values":[{"p":82.75,"label":"M"}]},
 "mark":{"type":"text","align":"right","baseline":"middle","fontSize":17,"color":"#ff0000"},
 "encoding":{"x":{"datum":327.5,"type":"quantitative","axis":null},"y":{"field":"p","type":"quantitative","axis":null},"text":{"field":"label"}}},
{"data":{"values":[{"p":81.05}]},
 "mark":{"type":"bar","color":"#808080"},
 "encoding":{"x":{"datum":323.3,"type":"quantitative","axis":null},"x2":{"datum":328.45},"y":{"field":"p","type":"quantitative","axis":null},"size":{"value":19}}},
{"data":{"values":[{"p":81.05,"label":"MH"}]},
 "mark":{"type":"text","align":"center","baseline":"middle","fontSize":17,"color":"white"},
 "encoding":{"x":{"datum":325.6,"type":"quantitative","axis":null},"y":{"field":"p","type":"quantitative","axis":null},"text":{"field":"label"}}},
{"data":{"values":[{"p":85.6615,"p2":78.408}]},
 "mark":{"type":"rule","color":"black","strokeWidth":1.5},
 "encoding":{"x":{"datum":328.45,"type":"quantitative","axis":null},"y":{"field":"p","type":"quantitative","axis":null},"y2":{"field":"p2"}}},
{"data":{"name":"yticks"},
 "mark":{"type":"rule","color":"black","strokeWidth":1.2},
 "encoding":{"x":{"datum":328.45,"type":"quantitative","axis":null},"x2":{"datum":329.0},"y":{"field":"v","type":"quantitative","axis":null}}},
{"data":{"name":"yticks"},
 "mark":{"type":"text","align":"left","baseline":"middle","fontSize":17,"color":"black"},
 "encoding":{"x":{"datum":329.15,"type":"quantitative","axis":null},"y":{"field":"v","type":"quantitative","axis":null},"text":{"field":"v","type":"quantitative","format":".2f"}}},
{"data":{"values":[{"p":83.53,"label":"83.53"},{"p":82.75,"label":"82.75"},{"p":82.18,"label":"82.18"},{"p":81.96,"label":"81.96"},{"p":81.05,"label":"81.05"}]},
 "mark":{"type":"bar"},
 "encoding":{"x":{"datum":329.1,"type":"quantitative","axis":null},"x2":{"datum":336.8},"y":{"field":"p","type":"quantitative","axis":null},"size":{"value":19},
  "color":{"condition":[{"test":"datum.label == '82.75'","value":"#ff0000"},{"test":"datum.label == '82.18'","value":"#ff00ff"}],"value":"#808080"}}},
{"data":{"values":[{"p":83.53,"label":"83.53"},{"p":82.75,"label":"82.75"},{"p":82.18,"label":"82.18"},{"p":81.96,"label":"81.96"},{"p":81.05,"label":"81.05"}]},
 "mark":{"type":"text","align":"left","baseline":"middle","fontSize":17,"color":"white"},
 "encoding":{"x":{"datum":329.4,"type":"quantitative","axis":null},"y":{"field":"p","type":"quantitative","axis":null},"text":{"field":"label"}}},
{"data":{"name":"arrows"},"transform":[{"filter":"datum.a == 'rs'"}],
 "mark":{"type":"trail","color":"#e8232b"},
 "encoding":{"x":{"field":"t","type":"quantitative","axis":null},"y":{"field":"p","type":"quantitative","axis":null},"order":{"field":"i"},"size":{"field":"i","type":"quantitative","scale":{"domain":[0,1],"range":[3,10]},"legend":null}}},
{"data":{"name":"arrows"},"transform":[{"filter":"datum.a == 'rh'"}],
 "mark":{"type":"line","color":"#e8232b","strokeWidth":9,"strokeJoin":"miter","strokeCap":"butt"},
 "encoding":{"x":{"field":"t","type":"quantitative","axis":null},"y":{"field":"p","type":"quantitative","axis":null},"order":{"field":"i"}}},
{"data":{"name":"arrows"},"transform":[{"filter":"datum.a == 'gs'"}],
 "mark":{"type":"trail","color":"#5b9a14"},
 "encoding":{"x":{"field":"t","type":"quantitative","axis":null},"y":{"field":"p","type":"quantitative","axis":null},"order":{"field":"i"},"size":{"field":"i","type":"quantitative","scale":{"domain":[0,1],"range":[3,10]},"legend":null}}},
{"data":{"name":"arrows"},"transform":[{"filter":"datum.a == 'gh'"}],
 "mark":{"type":"line","color":"#5b9a14","strokeWidth":9,"strokeJoin":"miter","strokeCap":"butt"},
 "encoding":{"x":{"field":"t","type":"quantitative","axis":null},"y":{"field":"p","type":"quantitative","axis":null},"order":{"field":"i"}}},
{"data":{"values":[{"t":183.8,"p":84.90,"label":"WTI"}]},
 "mark":{"type":"text","align":"center","baseline":"middle","fontSize":64,"color":"#7f7f7f"},
 "encoding":{"x":{"field":"t","type":"quantitative","axis":null},"y":{"field":"p","type":"quantitative","axis":null},"text":{"field":"label"}}},
{"data":{"values":[{"t":0.62,"label":"Relative Volume"},{"t":22.95,"label":"Relative Volume: 72.8"},{"t":52.6,"label":"avratio: 130.7"},{"t":72.8,"label":"20 DSMVA: 100.0"}]},
 "mark":{"type":"text","align":"left","baseline":"middle","fontSize":17},
 "encoding":{"x":{"field":"t","type":"quantitative","axis":null},"y":{"datum":78.5,"type":"quantitative","axis":null},"text":{"field":"label"},
  "color":{"field":"label","type":"nominal","scale":{"domain":["Relative Volume","Relative Volume: 72.8","avratio: 130.7","20 DSMVA: 100.0"],"range":["#000000","#ff0000","#ff8c00","#9a9a9a"]},"legend":null}}},
{"data":{"values":[{"p":78.408}]},
 "mark":{"type":"rule","color":"black","strokeWidth":1.5},
 "encoding":{"x":{"datum":-0.2167,"type":"quantitative","axis":null},"x2":{"datum":328.45},"y":{"field":"p","type":"quantitative","axis":null}}},
{"data":{"values":[{"t":12},{"t":21},{"t":38},{"t":45},{"t":53},{"t":62},{"t":78},{"t":84},{"t":91},{"t":99},{"t":108},{"t":122},{"t":129},{"t":137},{"t":146},{"t":164},{"t":172},{"t":180},{"t":189},{"t":206},{"t":214},{"t":222},{"t":230},{"t":248},{"t":256},{"t":264},{"t":273},{"t":288},{"t":296},{"t":304},{"t":313},{"t":323}]},
 "mark":{"type":"rule","color":"black","strokeWidth":1.2},
 "encoding":{"x":{"field":"t","type":"quantitative","axis":null},"y":{"datum":78.408,"type":"quantitative","axis":null},"y2":{"datum":78.37}}},
{"data":{"values":[{"t":-0.5,"t2":337.5}]},
 "mark":{"type":"rect","color":"black"},
 "encoding":{"x":{"field":"t","type":"quantitative","axis":null},"x2":{"field":"t2"},"y":{"datum":78.222,"type":"quantitative","axis":null},"y2":{"datum":78.10}}},
{"data":{"name":"dates"},
 "mark":{"type":"bar","color":"black"},
 "encoding":{"x":{"field":"t","type":"quantitative","axis":null},"y":{"datum":78.385,"type":"quantitative","axis":null},"y2":{"datum":78.231},
  "size":{"condition":[{"test":"length(datum.label) == 5","value":39},{"test":"length(datum.label) == 4","value":36}],"value":25}}},
{"data":{"name":"dates"},
 "mark":{"type":"text","align":"center","baseline":"middle","fontSize":17,"color":"white"},
 "encoding":{"x":{"field":"t","type":"quantitative","axis":null},"y":{"datum":78.3077,"type":"quantitative","axis":null},"text":{"field":"label"}}},
{"data":{"name":"times"},
 "mark":{"type":"text","align":"center","baseline":"middle","fontSize":17,"color":"black"},
 "encoding":{"x":{"field":"t","type":"quantitative","axis":null},"y":{"datum":78.3077,"type":"quantitative","axis":null},"text":{"field":"label"}}},
{"data":{"values":[{"t":330.1,"t2":337.2}]},
 "mark":{"type":"rect","color":"#00bb00"},
 "encoding":{"x":{"field":"t","type":"quantitative","axis":null},"x2":{"field":"t2"},"y":{"datum":78.377,"type":"quantitative","axis":null},"y2":{"datum":78.238}}},
{"data":{"values":[{"t":330.6,"label":"5 L E"}]},
 "mark":{"type":"text","align":"left","baseline":"middle","fontSize":17,"color":"#0a2a0a"},
 "encoding":{"x":{"field":"t","type":"quantitative","axis":null},"y":{"datum":78.3077,"type":"quantitative","axis":null},"text":{"field":"label"}}},
{"data":{"values":[{"p":85.6615,"p2":78.408}]},
 "mark":{"type":"rule","color":"black","strokeWidth":2},
 "encoding":{"x":{"datum":-0.05,"type":"quantitative","axis":null},"y":{"field":"p","type":"quantitative","axis":null},"y2":{"field":"p2"}}}
]
}
